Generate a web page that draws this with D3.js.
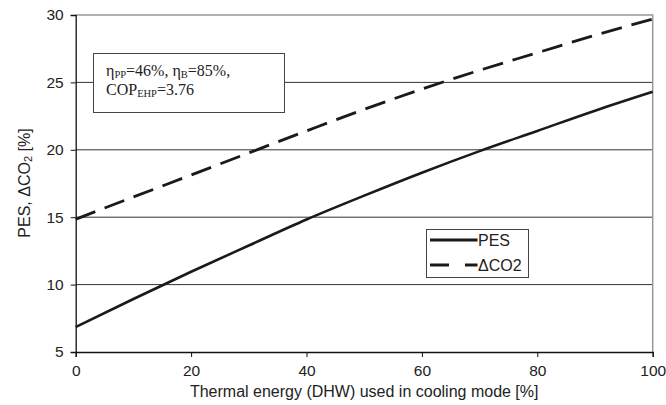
<!DOCTYPE html>
<html>
<head>
<meta charset="utf-8">
<script src="https://cdn.jsdelivr.net/npm/d3@7"></script>
<style>
  html, body { margin: 0; padding: 0; background: #fff; }
  svg { display: block; }
  .tick text { font-family: "Liberation Sans", Arial, sans-serif; font-size: 15.5px; fill: #222; }
</style>
</head>
<body>
<svg id="chart" width="666" height="405"></svg>
<script>
// Share of thermal energy (DHW) used in cooling mode [%]
const shares = [0, 10, 20, 30, 40, 50, 60, 70, 80, 90, 100];
// Primary energy saving [%]
const pesValues = [6.85, 8.93, 10.95, 12.9, 14.83, 16.6, 18.3, 19.9, 21.4, 22.9, 24.3];
// CO2 emission reduction [%]
const dco2Values = [14.85, 16.5, 18.13, 19.77, 21.4, 23.0, 24.5, 25.9, 27.2, 28.5, 29.7];
const xTicks = [0, 20, 40, 60, 80, 100];
const yTicks = [5, 10, 15, 20, 25, 30];

const svg = d3.select("#chart");
const plot = { left: 75.7, right: 652.7, top: 15, bottom: 352 };

const x = d3.scaleLinear().domain([0, 100]).range([plot.left, plot.right]);
const y = d3.scaleLinear().domain([5, 30]).range([plot.bottom, plot.top]);

// horizontal grid
svg.append("g").selectAll("line")
  .data(yTicks.filter(v => v > 5 && v < 30))
  .join("line")
  .attr("x1", plot.left).attr("x2", plot.right)
  .attr("y1", d => y(d)).attr("y2", d => y(d))
  .attr("stroke", "#333").attr("stroke-width", 1);

// top and right frame
svg.append("path")
  .attr("d", `M${plot.left},${plot.top}H${plot.right}V${plot.bottom}`)
  .attr("fill", "none").attr("stroke", "#999").attr("stroke-width", 1.5);

// axes
const xAxis = svg.append("g")
  .attr("transform", `translate(0,${plot.bottom})`)
  .call(d3.axisBottom(x).tickValues(xTicks).tickSize(5).tickPadding(8));
const yAxis = svg.append("g")
  .attr("transform", `translate(${plot.left},0)`)
  .call(d3.axisLeft(y).tickValues(yTicks).tickSize(5).tickPadding(7));
[xAxis, yAxis].forEach(a => {
  a.select(".domain").attr("stroke", "#111").attr("stroke-width", 1.3);
  a.selectAll(".tick line").attr("stroke", "#111");
});

// series
const line = d3.line().x((d, i) => x(shares[i])).y(d => y(d)).curve(d3.curveMonotoneX);
svg.append("path").datum(dco2Values)
  .attr("d", line).attr("fill", "none")
  .attr("stroke", "#1a1a1a").attr("stroke-width", 2.8)
  .attr("stroke-dasharray", "21,10");
svg.append("path").datum(pesValues)
  .attr("d", line).attr("fill", "none")
  .attr("stroke", "#1a1a1a").attr("stroke-width", 2.6);

// parameter note
const note = svg.append("g");
note.append("rect")
  .attr("x", 93.5).attr("y", 53.5).attr("width", 191).attr("height", 59)
  .attr("fill", "#fff").attr("stroke", "#444").attr("stroke-width", 1);
const serif = "'Liberation Serif', 'Times New Roman', serif";
const t1 = note.append("text").attr("x", 106).attr("y", 76)
  .attr("font-family", serif).attr("font-size", 16).attr("fill", "#222");
t1.append("tspan").text("η");
t1.append("tspan").attr("font-size", 10.5).attr("dy", 2).text("PP");
t1.append("tspan").attr("dy", -2).text("=46%, η");
t1.append("tspan").attr("font-size", 10.5).attr("dy", 2).text("B");
t1.append("tspan").attr("dy", -2).text("=85%,");
const t2 = note.append("text").attr("x", 106).attr("y", 94.5)
  .attr("font-family", serif).attr("font-size", 16).attr("fill", "#222");
t2.append("tspan").text("COP");
t2.append("tspan").attr("font-size", 10.5).attr("dy", 2).text("EHP");
t2.append("tspan").attr("dy", -2).text("=3.76");

// legend
const sans = "'Liberation Sans', Arial, sans-serif";
const legend = svg.append("g");
legend.append("rect")
  .attr("x", 426.5).attr("y", 229.5).attr("width", 102).attr("height", 48)
  .attr("fill", "#fff").attr("stroke", "#444").attr("stroke-width", 1);
const items = [
  { name: "PES", dash: null, yy: 240 },
  { name: "ΔCO2", dash: "19,16", yy: 265 }
];
items.forEach(it => {
  legend.append("line")
    .attr("x1", 430).attr("x2", 477.5).attr("y1", it.yy).attr("y2", it.yy)
    .attr("stroke", "#1a1a1a").attr("stroke-width", 2.8)
    .attr("stroke-dasharray", it.dash);
  legend.append("text")
    .attr("x", 478).attr("y", it.yy + 5.5)
    .attr("font-family", sans).attr("font-size", 16).attr("fill", "#222")
    .text(it.name);
});

// axis titles
svg.append("text")
  .attr("x", (plot.left + plot.right) / 2).attr("y", 397)
  .attr("text-anchor", "middle")
  .attr("font-family", sans).attr("font-size", 16).attr("fill", "#222")
  .text("Thermal energy (DHW) used in cooling mode [%]");
const yt = svg.append("text")
  .attr("transform", `translate(30,183) rotate(-90)`)
  .attr("text-anchor", "middle")
  .attr("font-family", sans).attr("font-size", 16).attr("fill", "#222");
yt.append("tspan").text("PES, ΔCO");
yt.append("tspan").attr("font-size", 11).attr("dy", 2).text("2");
yt.append("tspan").attr("dy", -2).text(" [%]");
</script>
</body>
</html>
